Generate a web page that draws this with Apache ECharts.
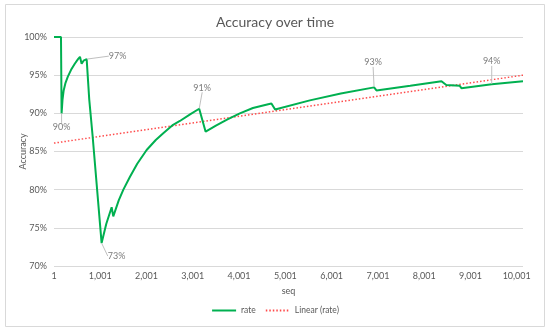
<!DOCTYPE html>
<html>
<head>
<meta charset="utf-8">
<script src="https://cdn.jsdelivr.net/npm/echarts@6/dist/echarts.min.js"></script>
<style>html,body{margin:0;padding:0;background:#fff;}#c{width:550px;height:332px;}</style>
</head>
<body>
<div id="c"></div>
<script>
// Data
const seq  = [1, 152, 165, 185, 210, 250, 300, 370, 450, 520, 562, 598, 640, 707,
              763, 836, 1030, 1130, 1247, 1282, 1400, 1500, 1643, 1800, 2003, 2200,
              2362, 2575, 2722, 2950, 3139, 3278, 3500, 3750, 4018, 4300, 4630, 4700,
              4780, 5530, 6200, 6919, 6970, 7700, 8375, 8479, 8770, 8806, 9461, 10137];
const rate = [100, 100, 90.0, 91.8, 93.0, 94.0, 94.8, 95.7, 96.5, 97.1, 97.4, 96.5, 96.9, 97.1,
              91.8, 87.0, 73.0, 75.5, 77.7, 76.5, 78.6, 80.0, 81.7, 83.4, 85.2, 86.5,
              87.4, 88.5, 89.0, 89.9, 90.6, 87.6, 88.4, 89.2, 90.0, 90.7, 91.2, 91.3,
              90.5, 91.7, 92.6, 93.4, 93.0, 93.6, 94.2, 93.7, 93.6, 93.3, 93.8, 94.2];
const trendSeq  = [1, 10137];
const trendRate = [86.1, 95.0];
const labelledIdx = [2, 13, 16, 30, 41, 48];
const yTicks = [70, 75, 80, 85, 90, 95, 100];
const xTickStep = 1000;
const lastSeq = 10137;

// label offsets (layout, not data)
const labelOffsets = {2: [0, 14], 13: [31, -3], 16: [15, 13], 30: [3, -21], 41: [-1, -25], 48: [0, -23]};

const FONT = 'Lato';
const TXT = '#595959';

const chart = echarts.init(document.getElementById('c'), null, {renderer: 'canvas'});
const lineData = seq.map((s, i) => [s - 1, rate[i]]);
const labelData = labelledIdx.map(i => ({value: [seq[i] - 1, rate[i]]}));

chart.setOption({
  animation: false,
  backgroundColor: '#fff',
  textStyle: {fontFamily: FONT, color: TXT},
  graphic: [{
    type: 'rect', shape: {x: 5.5, y: 4.5, width: 539, height: 322},
    style: {fill: 'none', stroke: '#d9d9d9', lineWidth: 1}, silent: true, z: -1
  }],
  title: {
    text: 'Accuracy over time', left: 'center', top: 10,
    textStyle: {fontFamily: FONT, fontSize: 14, fontWeight: 'normal', color: TXT}
  },
  legend: {
    data: ['rate', 'Linear (rate)'], bottom: 12, left: 'center',
    itemWidth: 24, itemHeight: 10, itemGap: 9,
    itemStyle: {opacity: 0},
    textStyle: {fontFamily: FONT, fontSize: 8.5, color: TXT}
  },
  grid: {left: 54, right: 27, top: 37, bottom: 66},
  xAxis: {
    type: 'value', min: 0, max: lastSeq - 1, interval: xTickStep,
    name: 'seq', nameLocation: 'middle', nameGap: 21, nameMoveOverlap: false,
    nameTextStyle: {fontFamily: FONT, fontSize: 9, color: TXT},
    axisLine: {show: false}, axisTick: {show: false}, splitLine: {show: false},
    axisLabel: {
      fontFamily: FONT, fontSize: 9, color: TXT, margin: 6, showMaxLabel: false,
      formatter: v => (v > 10000 ? '' : (v + 1).toLocaleString('en-US'))
    }
  },
  yAxis: {
    type: 'value', min: yTicks[0], max: yTicks[yTicks.length - 1], interval: 5,
    name: 'Accuracy', nameLocation: 'middle', nameGap: 26, nameRotate: 90, nameMoveOverlap: false,
    nameTextStyle: {fontFamily: FONT, fontSize: 9, color: TXT},
    axisLine: {show: false}, axisTick: {show: false},
    splitLine: {lineStyle: {color: '#d9d9d9', width: 1}},
    axisLabel: {fontFamily: FONT, fontSize: 9, color: TXT, margin: 7, formatter: '{value}%'}
  },
  series: [
    {
      name: 'rate', type: 'line', data: lineData, showSymbol: false, symbol: 'none',
      lineStyle: {color: '#00b050', width: 2}, itemStyle: {color: '#00b050'}, z: 3
    },
    {
      name: 'Linear (rate)', type: 'line', data: trendSeq.map((s, i) => [s - 1, trendRate[i]]),
      showSymbol: false, symbol: 'none',
      lineStyle: {color: '#ff4b4b', width: 1.5, type: [1.5, 2]}, itemStyle: {color: '#ff4b4b'}, z: 2
    },
    {
      name: 'labels', type: 'scatter', data: labelData, symbolSize: 1,
      itemStyle: {color: 'rgba(0,0,0,0)'}, z: 4, silent: true,
      label: {
        show: true, position: 'inside', fontFamily: FONT, fontSize: 9, color: TXT,
        formatter: p => Math.round(p.value[1]) + '%'
      },
      labelLine: {show: true, lineStyle: {color: '#bfbfbf', width: 1}},
      labelLayout: p => {
        const o = labelOffsets[labelledIdx[p.dataIndex]];
        return {dx: o[0], dy: o[1]};
      }
    }
  ]
});
</script>
</body>
</html>
